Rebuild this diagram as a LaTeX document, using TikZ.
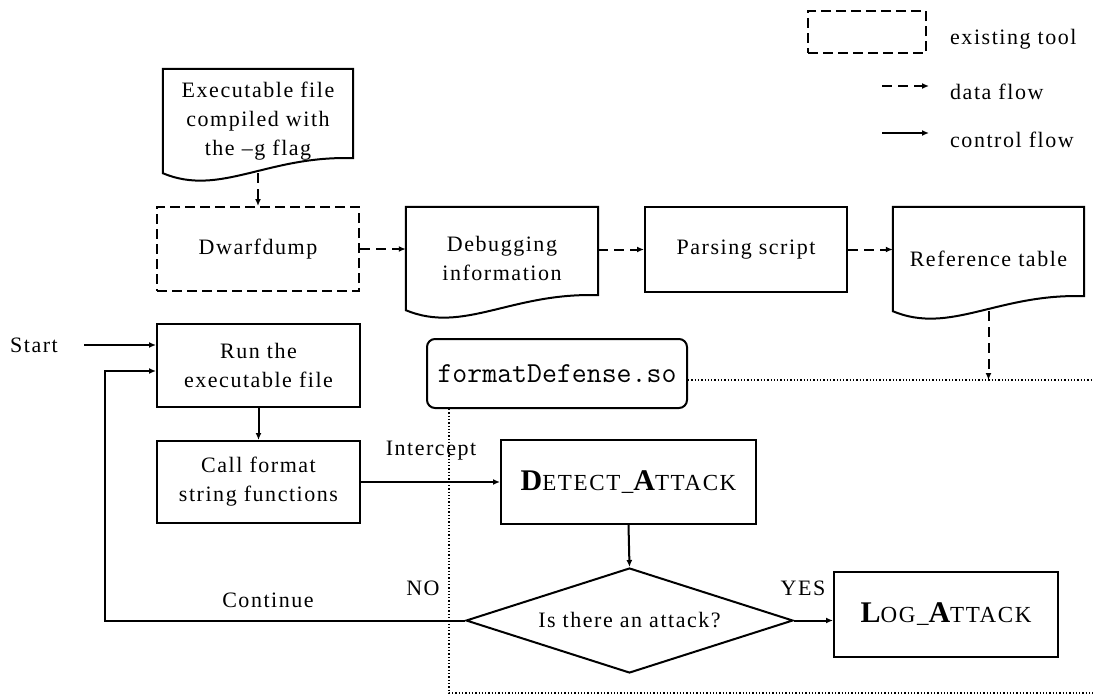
\documentclass[tikz,border=0pt]{standalone}
\usepackage{fontspec}
\setmainfont{Liberation Serif}[LetterSpace=7]
\usetikzlibrary{arrows.meta,shapes.geometric,calc}

% bold initial capital for the small-caps style routine names
\newcommand\leadcap[1]{{\fontsize{30}{30}\selectfont\bfseries #1}}

% outline of a document symbol: straight top and sides, wavy bottom
\newcommand\docpath[1]{%
  \draw[doc] (#1.north west) -- (#1.north east) -- ([yshift=15pt]#1.south east)
    .. controls ($(#1.south west)!0.55!(#1.south east)+(0,-18)$)
           and ($(#1.south west)!0.3!(#1.south east)+(0,24)$) .. (#1.south west) -- cycle;}

\begin{document}
\begin{tikzpicture}[x=1pt,y=-1pt,
  font=\fontsize{22}{29}\selectfont,
  box/.style={draw, line width=2pt, inner sep=0pt, align=center},
  tool/.style={box, dash pattern=on 10pt off 5pt},
  docbody/.style={inner sep=0pt, align=center},
  doc/.style={line width=2pt},
  dia/.style={diamond, draw, line width=2pt, inner sep=0pt, aspect=3,
              minimum width=327pt, minimum height=105pt},
  rbox/.style={box, rounded corners=8pt},
  routine/.style={box, font=\fontsize{23}{29}\selectfont},
  tip/.style={-{Latex[length=7pt,width=6pt]}},
  ctrl/.style={tip, line width=2pt},
  data/.style={tip, line width=2pt, dash pattern=on 10pt off 6pt},
  bound/.style={line width=1.3pt, dash pattern=on 1.3pt off 2pt},
  lbl/.style={inner sep=0pt}]
\useasboundingbox (0,0) rectangle (1093,696);

% legend
\node[tool, minimum width=118pt, minimum height=42pt] (legtool) at (867,32) {};
\node[lbl, anchor=base west] (legtooltxt) at (950,45) {existing tool};
\coordinate (ldA) at (882,86);
\coordinate (ldB) at (929,86);
\draw[data] (ldA) -- (ldB);
\node[lbl, anchor=base west] (ldtxt) at (950,99) {data flow};
\coordinate (lcA) at (882,133);
\coordinate (lcB) at (929,133);
\draw[ctrl] (lcA) -- (lcB);
\node[lbl, anchor=base west] (lctxt) at (950,147) {control flow};

% data preparation row
\node[docbody, minimum width=190pt, minimum height=104pt] (exe) at (258,121)
  {Executable file\\compiled with\\the \textendash g flag};
\docpath{exe}
\node[tool, minimum width=202pt, minimum height=84pt] (dwarf) at (258,249) {Dwarfdump};
\node[docbody, minimum width=192pt, minimum height=103pt] (dbg) at (502,258.5)
  {Debugging\\information};
\docpath{dbg}
\node[box, minimum width=202pt, minimum height=85pt] (parse) at (746,249.5) {Parsing script};
\node[docbody, minimum width=191pt, minimum height=104pt] (ref) at (988.5,259)
  {Reference table};
\docpath{ref}

\draw[data] (exe.south) -- (dwarf.north);
\draw[data] (dwarf.east) -- (dwarf.east -| dbg.west);
\draw[data] (dbg.east |- parse.west) -- (parse.west);
\draw[data] (parse.east) -- (parse.east -| ref.west);

% run-time control flow
\node[box, minimum width=203pt, minimum height=83pt] (run) at (258.5,365.5)
  {Run the\\executable file};
\node[box, minimum width=203pt, minimum height=82pt] (call) at (258.5,482)
  {Call format\\string functions};
\node[lbl] (start) at (34,345) {Start};
\node[rbox, minimum width=260pt, minimum height=69pt,
      font=\fontsize{29}{29}\ttfamily] (fmt) at (557,373.5) {formatDefense.so};
\node[routine, minimum width=255pt, minimum height=84pt] (detect) at (628.5,482)
  {\leadcap{D}ETECT\_\leadcap{A}TTACK};
\node[dia] (dec) at (629.5,620.5) {Is there an attack?};
\node[routine, minimum width=224pt, minimum height=85pt] (log) at (946,614.5)
  {\leadcap{L}OG\_\leadcap{A}TTACK};

% boundary of the interposed library
\coordinate (rimN) at (1093,380);
\coordinate (rimW) at (449,693);
\coordinate (rimS) at (1093,693);
\draw[bound] (fmt.east |- rimN) -- (rimN);
\draw[bound] (fmt.south -| rimW) -- (rimW) -- (rimS);
\draw[data] (ref.south) -- (ref.south |- rimN);

\draw[ctrl] ([xshift=26pt]start.east) -- (start.east -| run.west);
\draw[ctrl] (run.south) -- (call.north);
\draw[ctrl] (call.east |- detect.west) -- (detect.west);
\draw[ctrl] (detect.south) -- (dec.north);
\draw[ctrl] (dec.east) -- (dec.east -| log.west);
\coordinate (loopx) at (105,371);
\draw[ctrl] (dec.west) -| (loopx) -- (loopx -| run.west);

% connector labels
\node[lbl] (intercept) at (431,451) {Intercept};
\node[lbl] (no) at (423,588) {NO};
\node[lbl] (yes) at (803,588) {YES};
\node[lbl] (continue) at (268,600) {Continue};
\end{tikzpicture}
\end{document}
